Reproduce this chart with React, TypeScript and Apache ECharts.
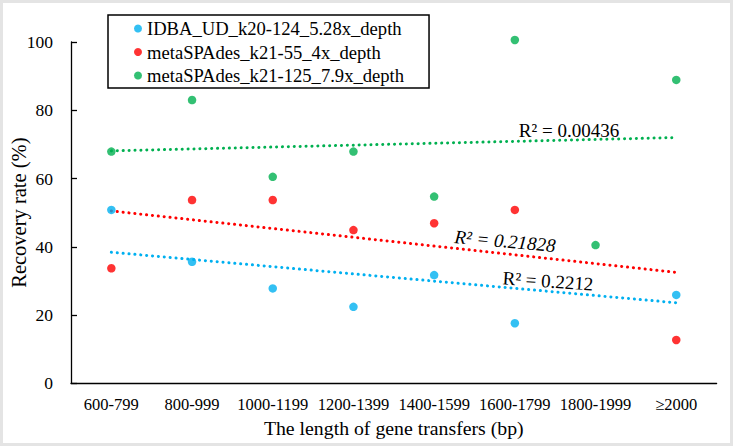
import { useEffect, useRef } from "react";
import * as echarts from "echarts";

const categories = ["600-799", "800-999", "1000-1199", "1200-1399", "1400-1599", "1600-1799", "1800-1999", "≥2000"];
const seriesNames = ["IDBA_UD_k20-124_5.28x_depth", "metaSPAdes_k21-55_4x_depth", "metaSPAdes_k21-125_7.9x_depth"];
const seriesColors = ["#00B0F0", "#FF0000", "#00B050"];
const idbaValues = [50.8, 35.6, 27.8, 22.4, 31.7, 17.6, null, 25.9];
const spades55Values = [33.7, 53.7, 53.7, 44.9, 46.9, 50.8, null, 12.7];
const spades125Values = [67.9, 83.0, 60.5, 67.9, 54.7, 100.6, 40.5, 88.9];
// trendline values at first and last category
const idbaTrend = [38.4, 23.6];
const spades55Trend = [50.5, 32.5];
const spades125Trend = [68.1, 72.0];
const r2Labels = ["R² = 0.2212", "R² = 0.21828", "R² = 0.00436"];

const FONT = "Liberation Serif, Times New Roman, serif";

export default function App() {
  const ref = useRef<HTMLDivElement>(null);
  useEffect(() => {
    document.body.style.margin = "0";
    const chart = echarts.init(ref.current!, null, { renderer: "svg" });
    const values = [idbaValues, spades55Values, spades125Values];
    const trends = [idbaTrend, spades55Trend, spades125Trend];
    const last = categories.length - 1;
    const scatter = values.map((v, i) => ({
      name: seriesNames[i],
      type: "scatter",
      data: v.map((d) => (d === null ? "-" : d)),
      symbol: "circle",
      symbolSize: 8.5,
      clip: false,
      itemStyle: { color: seriesColors[i] },
      z: 5,
      silent: true,
    }));
    const trendSeries = trends.map((t, i) => ({
      name: seriesNames[i] + " trend",
      type: "line",
      data: [
        [categories[0], t[0]],
        [categories[last], t[1]],
      ],
      symbol: "none",
      lineStyle: { color: seriesColors[i], width: 3, type: [0.1, 5.8], cap: "round" },
      z: 3,
      silent: true,
    }));
    chart.setOption({
      animation: false,
      backgroundColor: "#ffffff",
      textStyle: { fontFamily: FONT, color: "#000" },
      grid: { left: 71, top: 42, width: 645.6, height: 341.3, containLabel: false, outerBoundsMode: "none" },
      legend: {
        data: seriesNames.map((n) => ({ name: n, icon: "circle" })),
        orient: "vertical",
        left: 108,
        top: 15,
        itemWidth: 8,
        itemHeight: 8,
        itemGap: 2.5,
        padding: [3, 25, 2, 26],
        borderColor: "#000",
        borderWidth: 1.5,
        backgroundColor: "#fff",
        selectedMode: false,
        textStyle: { fontFamily: FONT, fontSize: 18.6, color: "#000", lineHeight: 21 },
      },
      xAxis: {
        type: "category",
        data: categories,
        boundaryGap: true,
        name: "The length of gene transfers (bp)",
        nameLocation: "middle",
        nameGap: 29,
        nameTextStyle: { fontFamily: FONT, fontSize: 19.8, color: "#000" },
        axisLine: { lineStyle: { color: "#000", width: 1.3 } },
        axisTick: { inside: true, length: 5, alignWithLabel: true, lineStyle: { color: "#000", width: 1.3 } },
        axisLabel: { fontFamily: FONT, fontSize: 16.5, color: "#000", margin: 13, interval: 0 },
        splitLine: { show: false },
      },
      yAxis: {
        type: "value",
        min: 0,
        max: 100,
        interval: 20,
        name: "Recovery rate (%)",
        nameLocation: "middle",
        nameRotate: 90,
        nameGap: 42,
        nameMoveOverlap: false,
        nameTextStyle: { fontFamily: FONT, fontSize: 20.5, color: "#000" },
        axisLine: { show: true, lineStyle: { color: "#000", width: 1.3 } },
        axisTick: { show: true, inside: true, length: 6, lineStyle: { color: "#000", width: 1.3 } },
        axisLabel: { fontFamily: FONT, fontSize: 17.5, color: "#000", margin: 18 },
        splitLine: { show: false },
      },
      series: [...trendSeries, ...scatter],
      graphic: [
        {
          type: "text",
          x: 569,
          y: 130,
          style: { text: r2Labels[2], font: `19px ${FONT}`, fill: "#000", textAlign: "center", textVerticalAlign: "middle" },
          z: 10,
        },
        {
          type: "text",
          x: 505,
          y: 241,
          rotation: -0.09,
          style: { text: r2Labels[1], font: `italic 19px ${FONT}`, fill: "#000", textAlign: "center", textVerticalAlign: "middle" },
          z: 10,
        },
        {
          type: "text",
          x: 548,
          y: 281,
          rotation: -0.07,
          style: { text: r2Labels[0], font: `19px ${FONT}`, fill: "#000", textAlign: "center", textVerticalAlign: "middle" },
          z: 10,
        },
      ],
    });
    return () => chart.dispose();
  }, []);
  return (
    <div style={{ position: "relative", width: 733, height: 446 }}>
      <div ref={ref} style={{ width: 733, height: 446 }} />
      <div
        style={{
          position: "absolute",
          left: 0,
          top: 0,
          width: 733,
          height: 446,
          boxSizing: "border-box",
          border: "3px solid #e4e4e4",
          pointerEvents: "none",
        }}
      />
    </div>
  );
}
